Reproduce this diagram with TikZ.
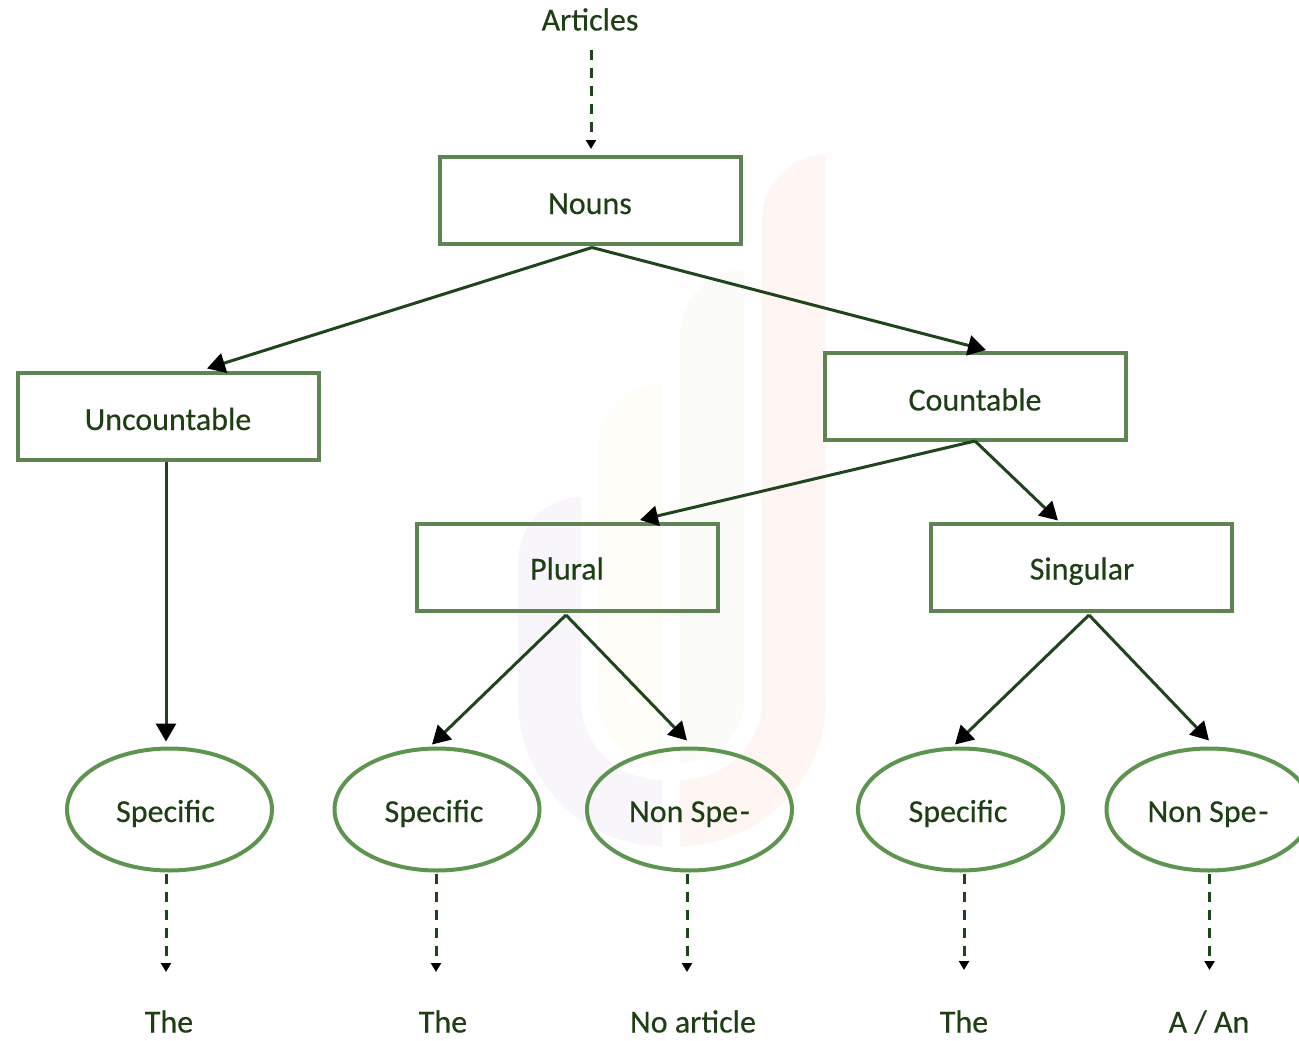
\documentclass[tikz,border=0pt]{standalone}
\usepackage{fontspec}
\setmainfont{Carlito}[FakeBold=0.35]
\usetikzlibrary{arrows.meta,shapes.geometric}
\definecolor{boxgreen}{HTML}{5F8454}
\definecolor{ovalgreen}{HTML}{5C9450}
\definecolor{linegreen}{HTML}{1F451C}
\definecolor{textgreen}{HTML}{1E3F14}
\definecolor{wmpurple}{HTML}{F8F6FB}
\definecolor{wmyellow}{HTML}{FFFDF8}
\definecolor{wmgreen}{HTML}{FBFCF8}
\definecolor{wmred}{HTML}{FFF5F2}
\tikzset{
  labelfont/.style={font=\fontsize{32}{36}\selectfont,text=textgreen},
  boxnode/.style={draw=boxgreen,line width=4pt,rectangle,minimum width=301pt,minimum height=87pt,inner sep=0pt,labelfont,text height=28pt,text depth=0pt},
  lowbox/.style={boxnode,text height=24pt},
  ovalnode/.style={draw=ovalgreen,line width=4pt,ellipse,minimum width=205pt,minimum height=122pt,inner sep=0pt,labelfont,text height=25pt,text depth=0pt},
  plainnode/.style={inner sep=0pt,labelfont,text height=21pt,text depth=0pt},
  solidarrow/.style={draw=linegreen,line width=3pt,-{Triangle[length=18pt,width=20pt,fill=black,color=black]}},
  dasharrow/.style={draw=linegreen,line width=3pt,dash pattern=on 10pt off 8pt,-{Triangle[length=9pt,width=10pt,fill=black,color=black]}}
}
\begin{document}
\begin{tikzpicture}[x=1pt,y=-1pt]
\useasboundingbox (0,0) rectangle (1299,1041);
\clip (0,0) rectangle (1299,1041);
% watermark
\fill[wmred] (826,155) .. controls (790,155) and (762,185) .. (762,220) -- (762,700)
  .. controls (762,745) and (725,780) .. (680,780) -- (680,846)
  .. controls (760,846) and (826,780) .. (826,700) -- cycle;
\fill[wmgreen] (744,270) .. controls (708,270) and (680,300) .. (680,335) -- (680,763)
  .. controls (715,763) and (744,735) .. (744,700) -- cycle;
\fill[wmyellow] (662,383) .. controls (626,383) and (598,413) .. (598,448) -- (598,700)
  .. controls (598,735) and (627,763) .. (662,763) -- cycle;
\fill[wmpurple] (581,497) .. controls (546,497) and (518,527) .. (518,562) -- (518,700)
  .. controls (518,780) and (582,846) .. (662,846) -- (662,780)
  .. controls (617,780) and (581,745) .. (581,700) -- cycle;
% labels and boxes
\node[plainnode] (articles) at (590,20) {Articles};
\node[boxnode] (nouns) at (590,200) {Nouns};
\node[boxnode] (unc) at (168,416) {Uncountable};
\node[boxnode] (cnt) at (975,396.5) {Countable};
\node[lowbox] (plural) at (567,567.5) {Plural};
\node[lowbox] (singular) at (1081,567.5) {\kern2pt Singular};
\node[ovalnode] (o1) at (169.5,809.5) {\kern-8pt Specific};
\node[ovalnode] (o2) at (437,809.5) {\kern-6pt Specific};
\node[ovalnode] (o3) at (689.5,809.5) {Non Spe\kern2pt-};
\node[ovalnode] (o4) at (960.5,809.5) {\kern-5pt Specific};
\node[ovalnode] (o5) at (1209,809.5) {\kern-2pt Non Spe\kern2pt-};
\node[plainnode] (t1) at (169,1022) {The};
\node[plainnode] (t2) at (443,1022) {The};
\node[plainnode] (t3) at (693,1022) {No article};
\node[plainnode] (t4) at (964,1022) {The};
\node[plainnode] (t5) at (1209,1022) {A / An};
\coordinate (e1) at (166,972);
\coordinate (e2) at (436,972);
\coordinate (e3) at (687,972);
\coordinate (e4) at (964,970);
\coordinate (e5) at (1209.5,970);
% connectors (positive yshift is upward on the page)
\draw[dasharrow] ([xshift=1pt]articles.south |- 0,50) -- ([xshift=1pt,yshift=5.5pt]nouns.north);
\draw[solidarrow] ([xshift=2pt,yshift=-2pt]nouns.south) -- ([xshift=39pt,yshift=2pt]unc.north);
\draw[solidarrow] ([xshift=2pt,yshift=-2pt]nouns.south) -- ([xshift=11pt,yshift=1pt]cnt.north);
\draw[solidarrow] ([xshift=-2pt]unc.south) -- ([xshift=-3.5pt,yshift=5pt]o1.north);
\draw[solidarrow] ([yshift=1pt]cnt.south) -- ([xshift=73pt,yshift=2pt]plural.north);
\draw[solidarrow] ([yshift=1pt]cnt.south) -- ([xshift=-23pt,yshift=1.5pt]singular.north);
\draw[solidarrow] ([xshift=-1pt,yshift=-2pt]plural.south) -- ([xshift=-5pt,yshift=2pt]o2.north);
\draw[solidarrow] ([xshift=-1pt,yshift=-2pt]plural.south) -- ([xshift=-2.5pt,yshift=6pt]o3.north);
\draw[solidarrow] ([xshift=8pt,yshift=-2pt]singular.south) -- ([xshift=-5.5pt,yshift=2pt]o4.north);
\draw[solidarrow] ([xshift=8pt,yshift=-2pt]singular.south) -- ([yshift=6pt]o5.north);
\draw[dasharrow] ([xshift=-3.5pt,yshift=-1pt]o1.south) -- (e1);
\draw[dasharrow] ([xshift=-1pt,yshift=-1pt]o2.south) -- (e2);
\draw[dasharrow] ([xshift=-2.5pt,yshift=-1pt]o3.south) -- (e3);
\draw[dasharrow] ([xshift=3.5pt,yshift=-1pt]o4.south) -- (e4);
\draw[dasharrow] ([xshift=0.5pt,yshift=-1pt]o5.south) -- (e5);
\end{tikzpicture}
\end{document}
